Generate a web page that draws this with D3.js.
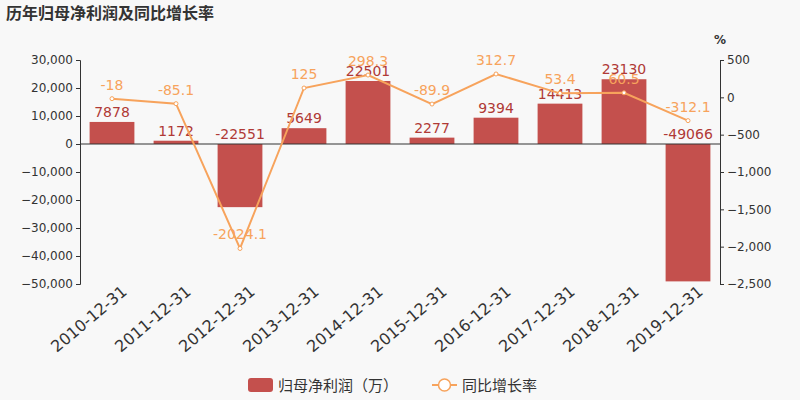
<!DOCTYPE html>
<html>
<head>
<meta charset="UTF-8">
<script src="https://d3js.org/d3.v7.min.js"></script>
<style>body{margin:0;background:#f8f8f8;}</style>
</head>
<body>
<script>
var years = ["2010-12-31","2011-12-31","2012-12-31","2013-12-31","2014-12-31","2015-12-31","2016-12-31","2017-12-31","2018-12-31","2019-12-31"];
var profit = [7878,1172,-22551,5649,22501,2277,9394,14413,23130,-49066];
var growth = [-18,-85.1,-2024.1,125,298.3,-89.9,312.7,53.4,60.5,-312.1];
var leftTicks = [30000,20000,10000,0,-10000,-20000,-30000,-40000,-50000];
var rightTicks = [500,0,-500,-1000,-1500,-2000,-2500];

var w = 800, h = 400;
var cjk = "'Noto Sans CJK SC',sans-serif", num = "'DejaVu Sans',sans-serif";
var barColor = "#c4504d", lineColor = "#f7a35c";
var svg = d3.select("body").append("svg").attr("width", w).attr("height", h)
	.style("background", "#f8f8f8").style("font-family", num);

svg.append("text").attr("x", 6).attr("y", 19).text("历年归母净利润及同比增长率")
	.attr("font-family", cjk).attr("font-size", 16).attr("font-weight", "bold").attr("fill", "#333");

var x = d3.scaleBand().domain(years).range([80, 720]).paddingInner(0.3).paddingOuter(0.15);
var yL = d3.scaleLinear().domain([-50000, 30000]).range([284, 60]);
var yR = d3.scaleLinear().domain([-2500, 500]).range([284, 60]);

svg.append("g").attr("transform", "translate(80,0)")
	.call(d3.axisLeft(yL).tickValues(leftTicks).tickFormat(d3.format(",")).tickSize(4))
	.call(g => g.selectAll("text").attr("font-size", 12).attr("fill", "#333").attr("font-family", num))
	.call(g => g.selectAll("line,path").attr("stroke", "#333"));
svg.append("g").attr("transform", "translate(720,0)")
	.call(d3.axisRight(yR).tickValues(rightTicks).tickFormat(d3.format(",")).tickSize(4))
	.call(g => g.selectAll("text").attr("font-size", 12).attr("fill", "#333").attr("font-family", num))
	.call(g => g.selectAll("line,path").attr("stroke", "#333"));
svg.append("text").attr("x", 714).attr("y", 44).text("%").attr("font-size", 12).attr("font-weight", "bold").attr("fill", "#333");

svg.append("g").attr("transform", "translate(0,284)")
	.call(d3.axisBottom(x).tickSize(0).tickFormat(d => d))
	.call(g => g.select("path").remove())
	.call(g => g.selectAll("text").attr("font-size", 16).attr("fill", "#333").attr("font-family", num)
		.attr("text-anchor", "end").attr("dx", "0.4em").attr("dy", "0.9em")
		.attr("transform", "rotate(-40)"));

svg.selectAll(".bar").data(profit).enter().append("rect")
	.attr("x", (d, i) => x(years[i]))
	.attr("width", x.bandwidth())
	.attr("y", d => yL(Math.max(0, d)))
	.attr("height", d => Math.abs(yL(d) - yL(0)))
	.attr("fill", barColor);
svg.append("line").attr("x1", 80).attr("x2", 720).attr("y1", yL(0)).attr("y2", yL(0)).attr("stroke", "#333");

svg.selectAll(".bl").data(profit).enter().append("text")
	.attr("x", (d, i) => x(years[i]) + x.bandwidth() / 2)
	.attr("y", d => yL(Math.max(0, d)) - 5)
	.attr("text-anchor", "middle").attr("font-size", 14).attr("fill", "#b03a36")
	.text(d => d);

var cx = i => x(years[i]) + x.bandwidth() / 2;
svg.append("path").datum(growth)
	.attr("d", d3.line().x((d, i) => cx(i)).y(d => yR(d)))
	.attr("fill", "none").attr("stroke", lineColor).attr("stroke-width", 2);
svg.selectAll(".pt").data(growth).enter().append("circle")
	.attr("cx", (d, i) => cx(i)).attr("cy", d => yR(d)).attr("r", 2)
	.attr("fill", "#fff").attr("stroke", lineColor);
svg.selectAll(".gl").data(growth).enter().append("text")
	.attr("x", (d, i) => cx(i)).attr("y", d => yR(d) - 9)
	.attr("text-anchor", "middle").attr("font-size", 14).attr("fill", lineColor)
	.text(d => d);

var lg = svg.append("g").attr("font-size", 15).attr("fill", "#333").attr("font-family", cjk);
lg.append("rect").attr("x", 248).attr("y", 378).attr("width", 25).attr("height", 14).attr("rx", 3).attr("fill", barColor);
lg.append("text").attr("x", 278).attr("y", 391).text("归母净利润（万）");
lg.append("line").attr("x1", 432).attr("x2", 457).attr("y1", 385).attr("y2", 385).attr("stroke", lineColor).attr("stroke-width", 2);
lg.append("circle").attr("cx", 444.5).attr("cy", 385).attr("r", 6).attr("fill", "#fff").attr("stroke", lineColor).attr("stroke-width", 1.5);
lg.append("text").attr("x", 462).attr("y", 391).text("同比增长率");
</script>
</body>
</html>
